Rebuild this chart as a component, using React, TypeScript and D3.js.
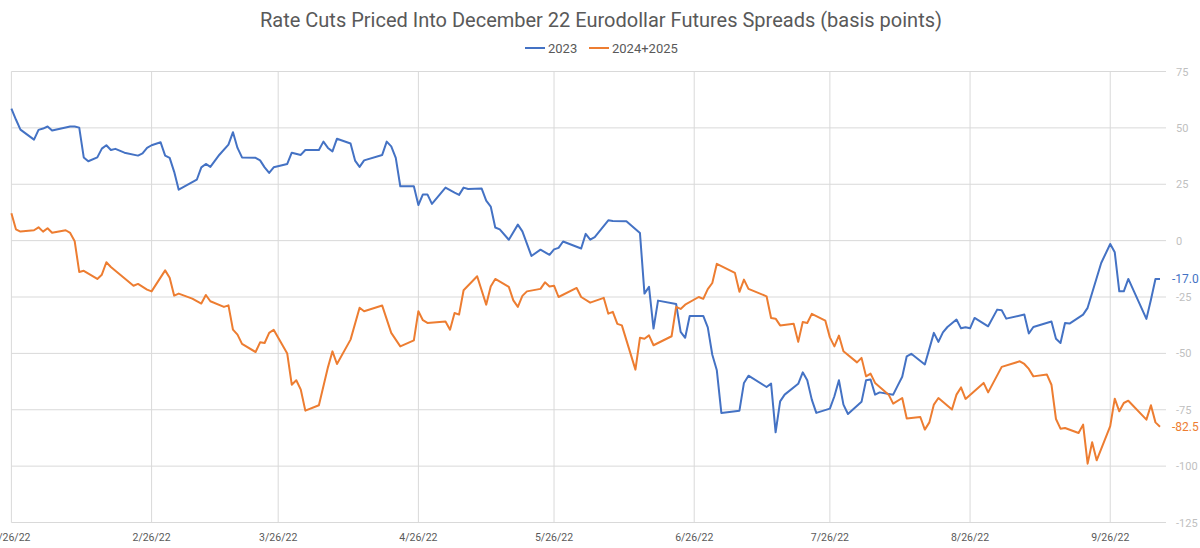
import React from "react";
import * as d3 from "d3";

const TITLE = "Rate Cuts Priced Into December 22 Eurodollar Futures Spreads (basis points)";
const SERIES_NAMES = ["2023", "2024+2025"];
const COLORS = ["#4472C4", "#ED7D31"];

const X_TICKS = ["1/26/22", "2/26/22", "3/26/22", "4/26/22", "5/26/22", "6/26/22", "7/26/22", "8/26/22", "9/26/22"];
const Y_TICKS = [75, 50, 25, 0, -25, -50, -75, -100, -125];

const dates2023 = [
  "1/26/22", "1/27/22", "1/28/22", "1/31/22", "2/1/22", "2/2/22", "2/3/22", "2/4/22", "2/6/22", "2/8/22",
  "2/9/22", "2/10/22", "2/11/22", "2/12/22", "2/14/22", "2/15/22", "2/16/22", "2/17/22", "2/18/22", "2/20/22",
  "2/23/22", "2/24/22", "2/25/22", "2/26/22", "2/28/22", "3/1/22", "3/2/22", "3/3/22", "3/4/22", "3/8/22",
  "3/9/22", "3/10/22", "3/11/22", "3/13/22", "3/15/22", "3/16/22", "3/17/22", "3/18/22", "3/21/22", "3/22/22",
  "3/23/22", "3/24/22", "3/25/22", "3/28/22", "3/29/22", "3/31/22", "4/1/22", "4/4/22", "4/5/22", "4/6/22",
  "4/7/22", "4/8/22", "4/11/22", "4/12/22", "4/13/22", "4/14/22", "4/18/22", "4/19/22", "4/20/22", "4/21/22",
  "4/22/22", "4/25/22", "4/26/22", "4/27/22", "4/28/22", "4/29/22", "5/2/22", "5/4/22", "5/5/22", "5/6/22",
  "5/7/22", "5/10/22", "5/11/22", "5/12/22", "5/13/22", "5/14/22", "5/16/22", "5/18/22", "5/19/22", "5/21/22",
  "5/23/22", "5/25/22", "5/26/22", "5/27/22", "5/28/22", "6/1/22", "6/2/22", "6/3/22", "6/4/22", "6/7/22",
  "6/8/22", "6/11/22", "6/14/22", "6/15/22", "6/16/22", "6/17/22", "6/18/22", "6/22/22", "6/23/22", "6/24/22",
  "6/25/22", "6/28/22", "6/29/22", "6/30/22", "7/1/22", "7/2/22", "7/6/22", "7/7/22", "7/8/22", "7/12/22",
  "7/13/22", "7/14/22", "7/15/22", "7/16/22", "7/19/22", "7/20/22", "7/21/22", "7/22/22", "7/23/22", "7/26/22",
  "7/27/22", "7/28/22", "7/29/22", "7/30/22", "8/2/22", "8/3/22", "8/4/22", "8/5/22", "8/6/22", "8/9/22",
  "8/10/22", "8/11/22", "8/12/22", "8/13/22", "8/16/22", "8/18/22", "8/19/22", "8/20/22", "8/21/22", "8/23/22",
  "8/24/22", "8/25/22", "8/26/22", "8/27/22", "8/30/22", "9/1/22", "9/2/22", "9/3/22", "9/7/22", "9/8/22",
  "9/9/22", "9/13/22", "9/14/22", "9/15/22", "9/16/22", "9/17/22", "9/20/22", "9/21/22", "9/24/22", "9/26/22",
  "9/27/22", "9/28/22", "9/29/22", "9/30/22", "10/4/22", "10/5/22", "10/6/22", "10/7/22",
];
const values2023 = [
  58.5, 53.7, 49.2, 44.8, 49.1, 49.7, 50.6, 48.8, 49.7, 50.6,
  50.6, 50.1, 36.9, 35.2, 36.9, 40.8, 42.3, 40.2, 40.7, 39.0,
  37.7, 38.7, 41.1, 42.3, 43.6, 37.7, 36.7, 30.5, 22.6, 27.0,
  32.5, 34.0, 32.7, 38.1, 42.6, 48.1, 41.1, 36.9, 36.7, 35.6,
  32.5, 30.0, 32.5, 34.0, 39.0, 38.0, 40.2, 40.2, 43.9, 41.1,
  39.6, 45.2, 43.1, 35.5, 32.7, 35.6, 38.0, 43.9, 41.8, 36.7,
  24.1, 24.1, 15.8, 20.5, 20.5, 16.3, 23.5, 21.3, 20.3, 23.5,
  22.9, 23.1, 17.7, 15.1, 5.8, 5.0, 0.4, 7.1, 4.1, -6.8,
  -4.0, -6.3, -3.9, -3.2, -0.4, -3.5, 3.0, 0.4, 1.6, 9.0,
  8.7, 8.6, 3.4, -23.5, -20.5, -39.0, -26.6, -28.1, -40.5, -43.1,
  -33.4, -33.4, -38.5, -50.6, -57.5, -76.4, -75.4, -63.1, -59.9, -64.9,
  -63.4, -85.0, -71.3, -68.3, -63.5, -58.4, -61.9, -70.5, -76.4, -74.5,
  -69.0, -61.9, -72.7, -76.9, -71.5, -61.9, -61.6, -68.3, -67.3, -68.3,
  -64.3, -60.4, -51.3, -50.2, -54.9, -40.9, -44.9, -40.7, -38.3, -35.0,
  -38.9, -38.4, -38.9, -34.3, -38.0, -30.6, -30.9, -34.6, -32.8, -41.2,
  -38.3, -35.9, -43.5, -45.4, -36.5, -36.8, -32.8, -29.8, -9.9, -1.5,
  -5.2, -22.5, -22.5, -17.0, -34.7, -26.2, -17.0, -17.0,
];

const dates2425 = [
  "1/26/22", "1/27/22", "1/28/22", "1/31/22", "2/1/22", "2/2/22", "2/3/22", "2/4/22", "2/7/22", "2/8/22",
  "2/9/22", "2/10/22", "2/11/22", "2/14/22", "2/15/22", "2/16/22", "2/17/22", "2/22/22", "2/23/22", "2/25/22",
  "2/26/22", "3/1/22", "3/2/22", "3/3/22", "3/4/22", "3/7/22", "3/9/22", "3/10/22", "3/11/22", "3/14/22",
  "3/15/22", "3/16/22", "3/17/22", "3/18/22", "3/21/22", "3/22/22", "3/23/22", "3/24/22", "3/25/22", "3/28/22",
  "3/29/22", "3/30/22", "3/31/22", "4/1/22", "4/4/22", "4/6/22", "4/7/22", "4/8/22", "4/11/22", "4/13/22",
  "4/14/22", "4/18/22", "4/20/22", "4/22/22", "4/25/22", "4/26/22", "4/27/22", "4/28/22", "5/2/22", "5/3/22",
  "5/4/22", "5/5/22", "5/6/22", "5/9/22", "5/11/22", "5/12/22", "5/13/22", "5/16/22", "5/17/22", "5/18/22",
  "5/19/22", "5/20/22", "5/23/22", "5/24/22", "5/25/22", "5/26/22", "5/27/22", "5/31/22", "6/1/22", "6/3/22",
  "6/6/22", "6/7/22", "6/8/22", "6/9/22", "6/10/22", "6/13/22", "6/14/22", "6/15/22", "6/16/22", "6/17/22",
  "6/21/22", "6/22/22", "6/23/22", "6/24/22", "6/27/22", "6/28/22", "6/29/22", "6/30/22", "7/1/22", "7/5/22",
  "7/6/22", "7/7/22", "7/8/22", "7/12/22", "7/13/22", "7/14/22", "7/15/22", "7/18/22", "7/19/22", "7/20/22",
  "7/21/22", "7/22/22", "7/25/22", "7/26/22", "7/27/22", "7/28/22", "7/29/22", "8/1/22", "8/2/22", "8/3/22",
  "8/4/22", "8/5/22", "8/8/22", "8/9/22", "8/11/22", "8/12/22", "8/15/22", "8/16/22", "8/17/22", "8/18/22",
  "8/19/22", "8/22/22", "8/23/22", "8/24/22", "8/25/22", "8/29/22", "8/30/22", "9/2/22", "9/6/22", "9/7/22",
  "9/8/22", "9/9/22", "9/12/22", "9/13/22", "9/14/22", "9/15/22", "9/16/22", "9/19/22", "9/20/22", "9/21/22",
  "9/22/22", "9/23/22", "9/26/22", "9/27/22", "9/28/22", "9/29/22", "9/30/22", "10/4/22", "10/5/22", "10/6/22",
  "10/7/22",
];
const values2425 = [
  12.1, 5.0, 4.0, 4.6, 5.9, 4.0, 5.5, 3.5, 4.6, 3.4,
  -0.3, -13.9, -13.4, -17.0, -15.1, -9.6, -11.7, -20.0, -19.2, -21.7,
  -22.5, -13.2, -16.5, -24.4, -23.5, -25.7, -27.9, -24.1, -26.9, -29.4,
  -28.7, -39.5, -41.7, -45.8, -49.4, -45.1, -45.4, -40.9, -39.5, -50.1,
  -63.9, -61.9, -66.1, -75.4, -73.0, -56.2, -49.1, -54.7, -43.9, -29.8,
  -31.3, -28.8, -40.9, -46.9, -44.2, -31.3, -35.3, -36.5, -35.9, -39.5,
  -32.1, -32.8, -22.0, -15.8, -28.4, -20.3, -17.0, -20.5, -26.5, -29.4,
  -24.5, -22.5, -21.4, -18.5, -20.3, -20.0, -25.0, -21.0, -25.0, -27.5,
  -25.4, -32.4, -31.6, -36.9, -37.6, -57.2, -43.1, -43.5, -42.0, -46.4,
  -42.4, -29.4, -30.3, -28.4, -25.0, -25.8, -21.5, -18.8, -10.3, -14.3,
  -22.7, -17.3, -21.4, -24.7, -34.3, -34.6, -37.6, -36.9, -44.9, -36.1,
  -36.5, -32.5, -35.5, -42.9, -46.9, -42.1, -49.1, -54.0, -52.0, -60.2,
  -59.0, -63.1, -68.3, -72.3, -69.8, -78.9, -78.2, -83.8, -80.6, -72.7,
  -69.8, -74.9, -68.3, -65.1, -70.2, -63.1, -67.3, -56.0, -53.5, -54.7,
  -56.9, -60.2, -59.4, -63.9, -79.1, -83.4, -83.1, -85.3, -81.6, -98.9,
  -89.4, -97.4, -82.3, -70.1, -75.7, -72.0, -71.0, -79.4, -73.0, -80.6,
  -82.5,
];

const parse = d3.timeParse("%m/%d/%y");
const FONT = "Roboto, 'Noto Sans', sans-serif";

export default function App() {
  const width = 1200;
  const height = 548;
  const plotLeft = 11.4;
  const plotRight = 1166;

  const x = d3
    .scaleTime()
    .domain([parse("1/26/22") as Date, parse("10/8/22") as Date])
    .range([plotLeft, 1164.5]);

  const y = d3.scaleLinear().domain([-125, 75]).range([522.5, 71.5]);

  const series = [
    { name: SERIES_NAMES[0], color: COLORS[0], data: dates2023.map((d, i) => ({ date: parse(d) as Date, value: values2023[i] })) },
    { name: SERIES_NAMES[1], color: COLORS[1], data: dates2425.map((d, i) => ({ date: parse(d) as Date, value: values2425[i] })) },
  ];

  const line = d3
    .line<{ date: Date; value: number }>()
    .x(d => x(d.date))
    .y(d => y(d.value));

  return (
    <svg
      width={width}
      height={height}
      style={{ position: "absolute", left: 0, top: 0, background: "#fff" }}
      fontFamily={FONT}
    >
      <text x={601} y={27} textAnchor="middle" fontSize={20} fill="#595959">
        {TITLE}
      </text>

      {/* legend */}
      <g fontSize={13} fill="#595959">
        <line x1={525} x2={545} y1={48} y2={48} stroke={COLORS[0]} strokeWidth={2} />
        <text x={548} y={52.5}>{SERIES_NAMES[0]}</text>
        <line x1={589} x2={609} y1={48} y2={48} stroke={COLORS[1]} strokeWidth={2} />
        <text x={612} y={52.5}>{SERIES_NAMES[1]}</text>
      </g>

      {/* horizontal grid + right axis */}
      {Y_TICKS.map(t => (
        <g key={t}>
          <line x1={plotLeft} x2={plotRight} y1={y(t)} y2={y(t)} stroke="#d9d9d9" strokeWidth={1} />
          <text x={1176} y={y(t) + 4} fontSize={11} fill="#bfbfbf">
            {t}
          </text>
        </g>
      ))}

      {/* vertical grid + bottom axis (first label runs off the left edge, as in the source) */}
      {X_TICKS.map(t => {
        const xp = x(parse(t) as Date);
        return (
          <g key={t}>
            <line x1={xp} x2={xp} y1={y(75)} y2={y(-125)} stroke="#d9d9d9" strokeWidth={1} />
            <text x={xp} y={541} textAnchor="middle" fontSize={10.5} fill="#595959">
              {t}
            </text>
          </g>
        );
      })}

      {series.map(s => (
        <path key={s.name} d={line(s.data) || ""} fill="none" stroke={s.color} strokeWidth={2} strokeLinejoin="round" />
      ))}

      {/* last value labels */}
      {series.map(s => {
        const last = s.data[s.data.length - 1];
        return (
          <text key={s.name} x={1172} y={y(last.value) + 4} fontSize={12} fill={s.color}>
            {last.value.toFixed(1)}
          </text>
        );
      })}
    </svg>
  );
}
